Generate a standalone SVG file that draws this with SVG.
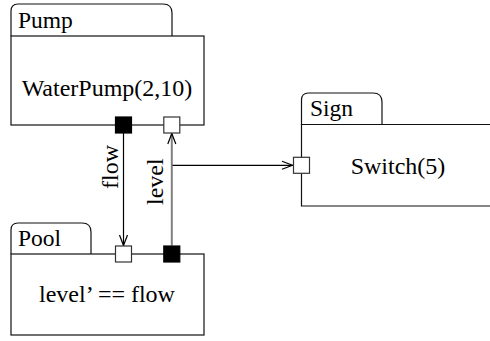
<svg xmlns="http://www.w3.org/2000/svg" width="490" height="341" viewBox="0 0 490 341">
<style>
.box{fill:none;stroke:#111;stroke-width:1.2}
.tab{fill:none;stroke:#111;stroke-width:1.2}
.t{font-family:"Liberation Serif","Times New Roman",serif;font-size:24px;fill:#000}
.tl{font-family:"Liberation Serif","Times New Roman",serif;font-size:23.5px;fill:#000}
.pw{fill:#fff;stroke:#333;stroke-width:1.2}
.pb{fill:#000;stroke:#000;stroke-width:1.2}
.ln{fill:none;stroke:#000;stroke-width:1.2}
.lg{fill:none;stroke:#808080;stroke-width:2}
.ah{fill:none;stroke:#000;stroke-width:1.2}
</style>
<rect width="490" height="341" fill="#fff"/>
<g id="pump">
<path class="tab" d="M11,36 V11 Q11,4 18,4 H163 Q172,4 172,13 V36"/>
<rect class="box" x="11" y="36" width="193" height="89"/>
<text class="tl" x="18" y="28">Pump</text>
<text class="t" x="107" y="96" text-anchor="middle">WaterPump(2,10)</text>
</g>
<g id="sign">
<path class="tab" d="M301.5,124.5 V100 Q301.5,93 308.5,93 H373 Q382,93 382,102 V124.5"/>
<path class="box" d="M496,124.5 H301.5 V206 H496"/>
<text class="tl" x="310" y="116">Sign</text>
<text class="t" x="398" y="174" text-anchor="middle">Switch(5)</text>
</g>
<g id="pool">
<path class="tab" d="M11,254 V230 Q11,223 18,223 H82 Q91,223 91,232 V254"/>
<rect class="box" x="11" y="254" width="193" height="81"/>
<text class="tl" x="18" y="246">Pool</text>
<text class="t" x="107" y="302" text-anchor="middle">level’ == flow</text>
</g>
<g id="connectors">
<line class="ln" x1="123.5" y1="133" x2="123.5" y2="245.5"/>
<path class="ah" d="M119.5,235 L123.5,245.5 L127.5,235"/>
<line class="lg" x1="171.8" y1="245.5" x2="171.8" y2="133.5"/>
<path class="ah" d="M167.8,144 L171.8,133.5 L175.8,144"/>
<line class="ln" x1="172.5" y1="165.3" x2="292.5" y2="165.3"/>
<path class="ah" d="M282,161.3 L292.5,165.3 L282,169.3"/>
<text class="t" transform="translate(118,189) rotate(-90)">flow</text>
<text class="t" transform="translate(163,205) rotate(-90)">level</text>
</g>
<g id="ports">
<rect class="pb" x="115.5" y="117" width="16" height="16"/>
<rect class="pw" x="163.8" y="117" width="16" height="16"/>
<rect class="pw" x="115.5" y="246" width="16" height="16"/>
<rect class="pb" x="163.8" y="246" width="16" height="16"/>
<rect class="pw" x="293.5" y="157.3" width="16" height="16"/>
</g>
</svg>
